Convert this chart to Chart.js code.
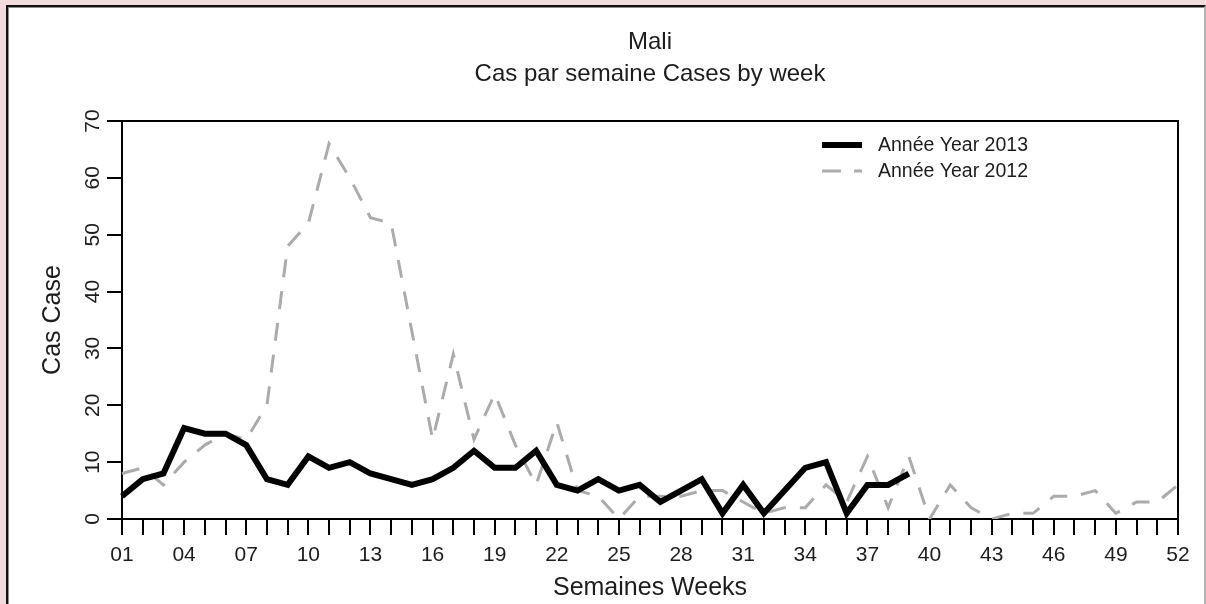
<!DOCTYPE html>
<html>
<head>
<meta charset="utf-8">
<script src="https://cdn.jsdelivr.net/npm/chart.js@4.4.1/dist/chart.umd.min.js"></script>
<style>
  html, body { margin:0; padding:0; width:1206px; height:604px; overflow:hidden; background:#f0dcdc; }
  .panel {
    position:absolute; left:6px; top:5px; width:1196px; height:620px; background:#fff;
    border-top:2px solid #111; border-left:2px solid #111; border-right:2px solid #b4b4b4;
    box-shadow: inset 1px 1px 0 #8c8c8c;
  }
  #wrap { position:absolute; left:0; top:0; width:1206px; height:604px; }
</style>
</head>
<body>
<div class="panel"></div>
<div id="wrap"><canvas id="mali-chart" width="1206" height="604"></canvas></div>

<script>
// ── 데이터 ────────────────────────────────────────────
const WEEKS = [
  '01','02','03','04','05','06','07','08','09','10','11','12','13',
  '14','15','16','17','18','19','20','21','22','23','24','25','26',
  '27','28','29','30','31','32','33','34','35','36','37','38','39',
  '40','41','42','43','44','45','46','47','48','49','50','51','52',
];
const CASES_2013 = [
  4, 7, 8, 16, 15, 15, 13, 7, 6, 11, 9, 10, 8,
  7, 6, 7, 9, 12, 9, 9, 12, 6, 5, 7, 5, 6,
  3, 5, 7, 1, 6, 1, 5, 9, 10, 1, 6, 6, 8,
];
const CASES_2012 = [
  8, 9, 6, 10, 13, 15, 14, 20, 48, 52, 66, 60, 53,
  52, 33, 14, 29, 14, 22, 13, 6, 17, 5, 4, 0, 4,
  4, 4, 5, 5, 3, 1, 2, 2, 6, 3, 11, 2, 11,
  0, 6, 2, 0, 1, 1, 4, 4, 5, 1, 3, 3, 6,
];
const Y_TICKS = [0, 10, 20, 30, 40, 50, 60, 70];
const LABEL_EVERY = 3;

const TITLE_LINES = ['Mali', 'Cas par semaine Cases by week'];
const LEGEND_2013 = 'Année Year 2013';
const LEGEND_2012 = 'Année Year 2012';

// ── 스타일 ────────────────────────────────────────────
const FONT = '"Liberation Sans", Arial, sans-serif';
const TXT  = '#1c1c1c';
const GRAY = '#ababab';
const DASH = [18, 14];

Chart.defaults.font.family = FONT;
Chart.defaults.color = TXT;

// ── 플러그인: 제목, 프레임, y 눈금 라벨, 범례 ──────────
const decor = {
  id: 'decor',
  afterDraw(chart) {
    const { ctx, chartArea: a, scales } = chart;
    ctx.save();

    // 제목
    ctx.fillStyle = TXT;
    ctx.font = `24px ${FONT}`;
    ctx.textAlign = 'center';
    ctx.textBaseline = 'middle';
    const cx = (a.left + a.right) / 2;
    TITLE_LINES.forEach((t, i) => ctx.fillText(t, cx, 42 + i * 32));

    // 위, 오른쪽 테두리
    ctx.strokeStyle = '#000';
    ctx.lineWidth = 2;
    ctx.beginPath();
    ctx.moveTo(a.left, a.top);
    ctx.lineTo(a.right, a.top);
    ctx.lineTo(a.right, a.bottom);
    ctx.stroke();

    // y 눈금 라벨 (세로 회전)
    ctx.font = `21px ${FONT}`;
    Y_TICKS.forEach(v => {
      const y = scales.y.getPixelForValue(v);
      ctx.save();
      ctx.translate(93, y);
      ctx.rotate(-Math.PI / 2);
      ctx.fillText(String(v), 0, 0);
      ctx.restore();
    });

    // 범례
    const lx = 822, tx = 878;
    const rows = [
      { y: 145, text: LEGEND_2013, color: '#000', width: 6, dash: [] },
      { y: 171, text: LEGEND_2012, color: GRAY, width: 3, dash: [19, 13] },
    ];
    ctx.font = `19.5px ${FONT}`;
    ctx.textAlign = 'left';
    rows.forEach(r => {
      ctx.strokeStyle = r.color;
      ctx.lineWidth = r.width;
      ctx.setLineDash(r.dash);
      ctx.lineCap = 'butt';
      ctx.beginPath();
      ctx.moveTo(lx, r.y);
      ctx.lineTo(lx + 40, r.y);
      ctx.stroke();
      ctx.setLineDash([]);
      ctx.fillStyle = TXT;
      ctx.fillText(r.text, tx, r.y + 1);
    });

    ctx.restore();
  },
};

// ── 차트 ──────────────────────────────────────────────
new Chart(document.getElementById('mali-chart'), {
  type: 'line',
  data: {
    labels: WEEKS,
    datasets: [
      {
        label: LEGEND_2013,
        data: CASES_2013,
        borderColor: '#000',
        borderWidth: 6,
        borderJoinStyle: 'miter',
        tension: 0,
        pointRadius: 0,
        fill: false,
      },
      {
        label: LEGEND_2012,
        data: CASES_2012,
        borderColor: GRAY,
        borderWidth: 3,
        borderDash: DASH,
        tension: 0,
        pointRadius: 0,
        fill: false,
      },
    ],
  },
  options: {
    responsive: false,
    animation: false,
    devicePixelRatio: 1,
    layout: { padding: { left: 0, top: 121, right: 28, bottom: 0 } },
    plugins: {
      legend: { display: false },
      title: { display: false },
      tooltip: { enabled: false },
    },
    scales: {
      x: {
        offset: false,
        grid: { display: true, drawOnChartArea: false, drawTicks: true, tickLength: 16, color: '#000', lineWidth: 2 },
        border: { display: true, color: '#000', width: 2 },
        ticks: {
          autoSkip: false, maxRotation: 0, minRotation: 0, padding: 8,
          font: { size: 21 }, color: TXT,
          callback: (v, i) => (i % LABEL_EVERY === 0 ? WEEKS[i] : ''),
        },
        title: { display: true, text: 'Semaines Weeks', font: { size: 25 }, color: TXT, padding: { top: 0, bottom: 1 } },
        afterFit: s => { s.height = 85; },
      },
      y: {
        min: 0, max: 70,
        grid: { display: true, drawOnChartArea: false, drawTicks: true, tickLength: 15, color: '#000', lineWidth: 2 },
        border: { display: true, color: '#000', width: 2 },
        ticks: { stepSize: 10, display: false },
        title: { display: true, text: 'Cas Case', font: { size: 25 }, color: TXT, padding: { top: 38, bottom: 0 } },
        afterFit: s => { s.width = 122; },
      },
    },
  },
  plugins: [decor],
});
</script>
</body>
</html>
